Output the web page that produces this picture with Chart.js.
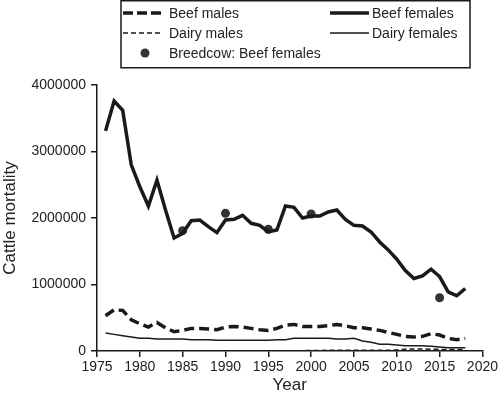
<!DOCTYPE html>
<html lang="en">
<head>
    <meta charset="UTF-8">
    <title>Cattle mortality</title>
    <script src="https://cdn.jsdelivr.net/npm/chart.js"></script>
    <style>
        body { margin: 0; background: #fff; }
        #wrap { width: 500px; height: 394px; position: relative; }
    </style>
</head>
<body>
<div id="wrap"><canvas id="chart" width="500" height="394"></canvas></div>

<script>
    // Data
    const years = [1976, 1977, 1978, 1979, 1980, 1981, 1982, 1983, 1984, 1985,
                   1986, 1987, 1988, 1989, 1990, 1991, 1992, 1993, 1994, 1995,
                   1996, 1997, 1998, 1999, 2000, 2001, 2002, 2003, 2004, 2005,
                   2006, 2007, 2008, 2009, 2010, 2011, 2012, 2013, 2014, 2015,
                   2016, 2017, 2018];

    const beefFemales = [3310000, 3760000, 3620000, 2800000, 2470000, 2180000, 2570000, 2120000, 1700000, 1770000,
                         1960000, 1970000, 1870000, 1780000, 1970000, 1980000, 2040000, 1920000, 1890000, 1790000,
                         1820000, 2180000, 2160000, 2000000, 2030000, 2030000, 2090000, 2120000, 1980000, 1890000,
                         1880000, 1790000, 1640000, 1520000, 1380000, 1210000, 1090000, 1130000, 1230000, 1120000,
                         890000, 830000, 940000];

    const beefMales = [530000, 620000, 610000, 470000, 410000, 360000, 430000, 350000, 290000, 310000,
                       340000, 340000, 330000, 320000, 360000, 370000, 360000, 340000, 320000, 310000,
                       340000, 390000, 400000, 370000, 370000, 370000, 380000, 400000, 380000, 350000,
                       350000, 330000, 310000, 280000, 250000, 220000, 210000, 220000, 260000, 240000,
                       190000, 170000, 190000];

    const dairyFemales = [270000, 250000, 230000, 210000, 190000, 190000, 180000, 180000, 180000, 180000,
                          170000, 170000, 170000, 160000, 160000, 160000, 160000, 160000, 160000, 160000,
                          170000, 170000, 190000, 190000, 190000, 190000, 190000, 180000, 180000, 190000,
                          150000, 130000, 100000, 100000, 90000, 80000, 80000, 80000, 70000, 60000,
                          50000, 50000, 50000];

    const dairyMales = [5000, 5000, 5000, 5000, 5000, 5000, 5000, 5000, 5000, 5000,
                        5000, 5000, 5000, 5000, 5000, 5000, 5000, 5000, 5000, 5000,
                        5000, 5000, 5000, 5000, 8000, 8000, 10000, 10000, 10000, 10000,
                        10000, 10000, 10000, 12000, 15000, 28000, 30000, 30000, 28000, 25000,
                        22000, 22000, 22000];

    const breedcowYears = [1985, 1990, 1995, 2000, 2015];
    const breedcowBeefFemales = [1810000, 2070000, 1830000, 2060000, 800000];

    const xTicks = [1975, 2020, 5];
    const yTicks = [0, 4000000, 1000000];

    const ink = '#1a1a1a';
    const textColor = '#222';
    const font = 'Arial, "Liberation Sans", Helvetica, sans-serif';

    function pts(xs, ys) {
        return xs.map((x, i) => ({x: x, y: ys[i]}));
    }

    // Legend drawn by hand: two columns, boxed, samples on the left of labels
    const boxLegend = {
        id: 'boxLegend',
        afterDraw(chart) {
            const c = chart.ctx;
            c.save();
            c.strokeStyle = ink;
            c.lineWidth = 1.5;
            c.strokeRect(121, 0.75, 349, 67);

            c.font = '14px ' + font;
            c.fillStyle = textColor;
            c.textBaseline = 'middle';

            function sample(x1, x2, y, w, dash) {
                c.beginPath();
                c.setLineDash(dash);
                c.lineWidth = w;
                c.moveTo(x1, y);
                c.lineTo(x2, y);
                c.stroke();
                c.setLineDash([]);
            }

            sample(123, 162, 13, 3.5, [10, 4]);
            c.fillText('Beef males', 169, 14);
            sample(123, 162, 33, 1.5, [5, 3]);
            c.fillText('Dairy males', 169, 34);
            c.beginPath();
            c.fillStyle = '#333';
            c.arc(145, 53, 4.5, 0, Math.PI * 2);
            c.fill();
            c.fillStyle = textColor;
            c.fillText('Breedcow: Beef females', 169, 54);

            sample(330, 369, 13, 3.5, []);
            c.fillText('Beef females', 372, 14);
            sample(330, 369, 33, 1.5, []);
            c.fillText('Dairy females', 372, 34);
            c.restore();
        }
    };

    const ctx = document.getElementById('chart').getContext('2d');
    const chart = new Chart(ctx, {
        type: 'line',
        data: {
            datasets: [{
                label: 'Beef males',
                data: pts(years, beefMales),
                borderColor: ink,
                borderWidth: 3.5,
                borderDash: [10, 5],
                pointRadius: 0,
                fill: false
            }, {
                label: 'Beef females',
                data: pts(years, beefFemales),
                borderColor: ink,
                borderWidth: 3.5,
                pointRadius: 0,
                fill: false
            }, {
                label: 'Dairy males',
                data: pts(years, dairyMales),
                borderColor: ink,
                borderWidth: 1.5,
                borderDash: [5, 3],
                pointRadius: 0,
                fill: false
            }, {
                label: 'Dairy females',
                data: pts(years, dairyFemales),
                borderColor: ink,
                borderWidth: 1.5,
                pointRadius: 0,
                fill: false
            }, {
                label: 'Breedcow: Beef females',
                data: pts(breedcowYears, breedcowBeefFemales),
                showLine: false,
                pointRadius: 4.5,
                pointBackgroundColor: '#333',
                pointBorderWidth: 0
            }]
        },
        options: {
            responsive: false,
            animation: false,
            layout: { padding: { top: 85, right: 16, left: 0, bottom: 0 } },
            plugins: {
                legend: { display: false },
                tooltip: { enabled: false }
            },
            scales: {
                x: {
                    type: 'linear',
                    min: xTicks[0],
                    max: xTicks[1],
                    afterFit(scale) { scale.height = 43; },
                    ticks: {
                        stepSize: xTicks[2],
                        color: textColor,
                        font: { size: 14, family: font },
                        padding: 2,
                        maxRotation: 0,
                        callback: v => String(v)
                    },
                    grid: { display: true, drawOnChartArea: false, drawTicks: true, tickLength: 6, color: ink, lineWidth: 1.5 },
                    border: { display: true, color: ink, width: 1.5 },
                    title: { display: true, text: 'Year', color: textColor, font: { size: 17, family: font, lineHeight: 1 }, padding: { top: 0, bottom: 0 } }
                },
                y: {
                    min: yTicks[0],
                    max: yTicks[1],
                    afterFit(scale) { scale.width = 97; },
                    ticks: {
                        stepSize: yTicks[2],
                        color: textColor,
                        font: { size: 14, family: font },
                        padding: 5,
                        callback: v => String(v)
                    },
                    grid: { display: true, drawOnChartArea: false, drawTicks: true, tickLength: 6, color: ink, lineWidth: 1.5 },
                    border: { display: true, color: ink, width: 1.5 },
                    title: { display: true, text: 'Cattle mortality', color: textColor, font: { size: 17, family: font, lineHeight: 1 }, padding: { top: 2, bottom: 0 } }
                }
            }
        },
        plugins: [boxLegend]
    });
</script>
</body>
</html>
